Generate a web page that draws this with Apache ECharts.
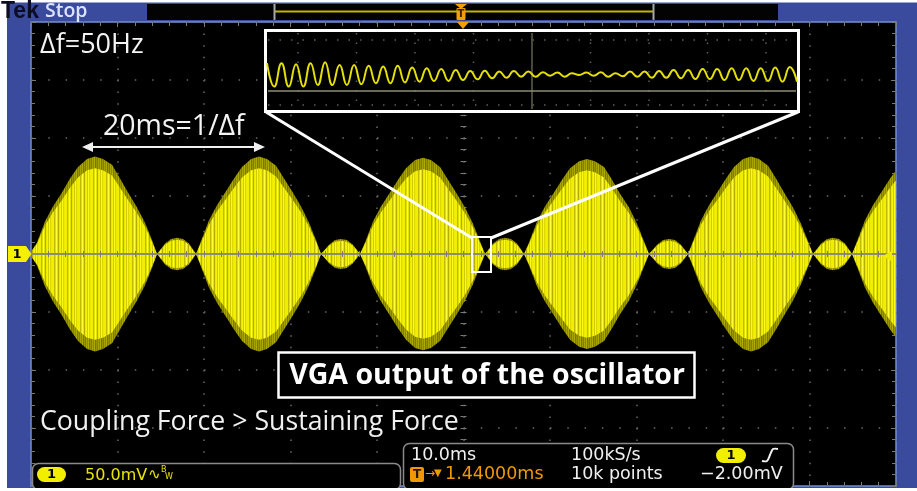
<!DOCTYPE html>
<html>
<head>
<meta charset="utf-8">
<script src="https://cdn.jsdelivr.net/npm/echarts@6/dist/echarts.min.js"></script>
<style>
html,body{margin:0;padding:0;background:#fff;}
#chart{width:917px;height:491px;}
</style>
</head>
<body>
<div id="chart"></div>
<script>
// ---------------- data ----------------
// envelope of the beating VGA signal: time (ms, screen centre = 0) and amplitude (mV)
const envTimeMs = [
  -50.00, -49.31, -48.38, -47.46, -46.42, -45.49, -44.57, -43.52, -42.60, -41.68, -40.63, -39.71, -38.78, -37.74, -36.82, -36.01, -35.43,
  -34.51, -33.81, -33.12, -32.43, -31.73, -30.92,
  -30.35, -29.42, -28.50, -27.46, -26.53, -25.61, -24.56, -23.64, -22.72, -21.67, -20.75, -19.82, -18.78, -17.86, -17.05, -16.47,
  -15.55, -14.85, -14.16, -13.47, -12.77, -11.96,
  -11.39, -10.46, -9.54, -8.50, -7.57, -6.65, -5.60, -4.68, -3.76, -2.71, -1.79, -0.86, 0.18, 1.10, 1.91, 2.49,
  3.41, 4.11, 4.80, 5.49, 6.19, 7.00,
  7.57, 8.50, 9.42, 10.46, 11.39, 12.31, 13.36, 14.28, 15.20, 16.25, 17.17, 18.10, 19.14, 20.06, 20.87, 21.45,
  22.37, 23.07, 23.76, 24.45, 25.15, 25.96,
  26.53, 27.46, 28.38, 29.42, 30.35, 31.27, 32.32, 33.24, 34.16, 35.21, 36.13, 37.06, 38.10, 39.02, 39.83, 40.41,
  41.33, 42.03, 42.72, 43.41, 44.11, 44.92,
  45.49, 46.42, 47.34, 48.38, 49.31, 50.00
];
const envAmpMv = [
  2, 10, 28, 41, 53, 65, 75, 82, 84, 82, 77, 65, 53, 40, 27, 12, 0,
  9, 13, 14, 13, 9, 0,
  11, 29, 42, 54, 65, 75, 82, 84, 82, 76, 65, 54, 41, 27, 12, 0,
  8, 12, 13, 12, 8, 0,
  10, 28, 41, 53, 64, 74, 81, 83, 81, 75, 64, 53, 40, 26, 11, 0,
  9, 13, 14, 13, 9, 0,
  10, 28, 41, 53, 64, 74, 80, 82, 80, 75, 64, 52, 40, 26, 11, 0,
  8, 12, 13, 12, 8, 0,
  11, 29, 42, 54, 65, 75, 82, 84, 82, 76, 65, 53, 40, 26, 11, 0,
  9, 13, 14, 13, 9, 0,
  11, 29, 42, 54, 65, 72
];
// zoomed inset: successive crest and trough values of the carrier (mV)
const insetPeakMv = [3.0, 3.0, 2.6, 3.0, 3.4, 2.3, 2.3, 2.0, 1.7, 2.0, 1.3, 1.1, 0.8, 0.4, 0.0, 0.1, -0.2, 0.0, -0.2,
  -0.5, -0.6, -0.9, -0.6, -0.5, -0.9, -0.2, -0.2, 0.0, 0.4, 0.4, 0.8, 0.8, 1.1, 1.1, 1.1, 1.3, 1.5];
const insetTroughMv = [-6.0, -6.0, -6.0, -5.4, -5.4, -5.4, -5.1, -4.7, -4.7, -4.4, -4.1, -3.8, -3.8, -3.5, -3.2, -2.8, -2.6, -2.2, -2.2,
  -1.8, -2.2, -1.5, -1.8, -2.2, -2.0, -2.2, -2.6, -2.6, -2.8, -3.1, -3.1, -3.5, -3.5, -3.8, -3.8, -4.1, -4.1];

// axis ranges (10 ms/div, 50 mV/div)
const timeRangeMs = [-50, 50];
const timeDivMs = 10;
const voltRangeMv = [-200, 200];
const voltDivMv = 50;

// texts
const brandText = 'Tek';
const runStateText = 'Stop';
const noteDeltaF = 'Δf=50Hz';
const notePeriod = '20ms=1/Δf';
const noteTitle = 'VGA output of the oscillator';
const noteCondition = 'Coupling Force > Sustaining Force';
const chLabel = '1';
const chScaleText = '50.0mV';
const timeScaleText = '10.0ms';
const sampleRateText = '100kS/s';
const trigPosText = '1.44000ms';
const recordText = '10k points';
const trigLevelText = '\u22122.00mV';

// ---------------- build ----------------
const chart = echarts.init(document.getElementById('chart'), null, {renderer: 'canvas'});

function stripePattern(cols) {
  const c = document.createElement('canvas');
  c.width = cols.length; c.height = 2;
  const g = c.getContext('2d');
  cols.forEach((col, i) => { g.fillStyle = col; g.fillRect(i, 0, 1, 2); });
  return c;
}
const innerPattern = stripePattern(['#f2ee00','#f2ee00','#c0ba00','#e2de00','#ffff38','#e6e200','#b4ae00','#ece800','#f6f200','#d0ca00','#fafa20','#dcd800','#eeea00']);
const outerPattern = stripePattern(['#9a9400','#847e00','#a8a200','#8e8800','#b0aa00','#7c7600']);

const upperOuter = envTimeMs.map((t, i) => [t, envAmpMv[i]]);
const lowerOuter = envTimeMs.map((t, i) => [t, -envAmpMv[i]]);
const upperInner = envTimeMs.map((t, i) => [t, envAmpMv[i] * 0.88]);
const lowerInner = envTimeMs.map((t, i) => [t, -envAmpMv[i] * 0.88]);

const insetSeq = [];
insetPeakMv.forEach((p, i) => { insetSeq.push(p); insetSeq.push(insetTroughMv[i]); });
const insetCats = insetSeq.map((_, i) => String(i));

const DOT = '#6a6a6a';
const TICK = '#7a7a7a';
const PLOT = {left: 31, top: 22, width: 865, height: 464};

function frameX(pos, split) {
  return {
    gridIndex: 0, type: 'value', min: timeRangeMs[0], max: timeRangeMs[1], interval: timeDivMs, position: pos,
    axisLine: {show: false, onZero: false},
    axisTick: {show: true, inside: true, length: 5, lineStyle: {color: TICK, width: 1}},
    minorTick: {show: true, splitNumber: 5, length: 4, lineStyle: {color: TICK, width: 1}},
    axisLabel: {show: false},
    splitLine: {show: split, lineStyle: {color: DOT, width: 1.5, type: [1.5, 10.1]}}
  };
}
function frameY(pos, split) {
  return {
    gridIndex: 0, type: 'value', min: voltRangeMv[0], max: voltRangeMv[1], interval: voltDivMv, position: pos,
    axisLine: {show: false, onZero: false},
    axisTick: {show: true, inside: true, length: 5, lineStyle: {color: TICK, width: 1}},
    minorTick: {show: true, splitNumber: 5, length: 4, lineStyle: {color: TICK, width: 1}},
    axisLabel: {show: false},
    splitLine: {show: split, lineStyle: {color: DOT, width: 1.5, type: [1.5, 15.8]}}
  };
}
function centreX(g, inside, lineShow) {
  return {
    gridIndex: g, type: 'value', min: timeRangeMs[0], max: timeRangeMs[1], interval: timeDivMs, z: 3,
    axisLine: {show: lineShow, onZero: true, lineStyle: {color: '#8e8c70', width: 2}},
    axisTick: {show: true, inside: inside, length: 3, lineStyle: {color: TICK}},
    minorTick: {show: true, splitNumber: 5, length: 3, lineStyle: {color: TICK}},
    axisLabel: {show: false}, splitLine: {show: false}
  };
}
function centreY(g, inside) {
  return {
    gridIndex: g, type: 'value', min: voltRangeMv[0], max: voltRangeMv[1], interval: voltDivMv, z: 1,
    axisLine: {show: false, onZero: true},
    axisTick: {show: true, inside: inside, length: 3, lineStyle: {color: TICK}},
    minorTick: {show: true, splitNumber: 5, length: 3, lineStyle: {color: TICK}},
    axisLabel: {show: false}, splitLine: {show: false}
  };
}

const SANS = '"Open Sans"';
const MONO = '"DejaVu Sans"';
function txt(x, y, text, font, fill, align, z) {
  return {type: 'text', x: x, y: y, z: z || 12, silent: true,
    style: {text: text, font: font, fill: fill, textAlign: align || 'left', align: align || 'left',
      textVerticalAlign: 'middle', verticalAlign: 'middle'}};
}
function line(x1, y1, x2, y2, color, w, z, dash) {
  return {type: 'line', z: z || 12, silent: true, shape: {x1, y1, x2, y2},
    style: {stroke: color, lineWidth: w, lineDash: dash || null}};
}
function rect(x, y, w, h, fill, stroke, lw, z, r) {
  return {type: 'rect', z: z || 12, silent: true, shape: {x, y, width: w, height: h, r: r || 0},
    style: {fill: fill, stroke: stroke, lineWidth: lw || 0}};
}
function poly(points, fill, z) {
  return {type: 'polygon', z: z || 12, silent: true, shape: {points}, style: {fill}};
}

const graphics = [];
// top status strip
graphics.push(rect(147, 4, 631, 16, '#030303', null, 0, 7));
graphics.push(line(275, 11.5, 653, 11.5, '#c4b400', 2, 8));
graphics.push(line(274.5, 4, 274.5, 20, '#a8a8a8', 2, 8));
graphics.push(line(653.5, 4, 653.5, 20, '#a8a8a8', 2, 8));
graphics.push(poly([[455, 4], [467, 4], [461, 9]], '#f0a000', 9));
graphics.push(rect(456.5, 8, 9, 12, '#f0a000', null, 0, 9, 1));
graphics.push(txt(461, 14.5, 'T', 'bold 10px "DejaVu Sans"', '#3a2000', 'center', 10));
graphics.push(poly([[457, 22], [469, 22], [463, 29]], '#f0a000', 9));
// brand + run state
graphics.push(txt(1, 12, brandText, 'bold 23px "Liberation Sans"', '#0c0c24', 'left', 60));
graphics.push(txt(45, 11, runStateText, '600 19.5px ' + SANS, '#dce4ff', 'left', 12));
// channel marker (left) and right-edge arrow
graphics.push(poly([[8, 246], [26, 246], [31.5, 254], [26, 262], [8, 262]], '#f4f000', 12));
graphics.push(txt(17, 254.5, chLabel, 'bold 13px "DejaVu Sans"', '#000', 'center', 13));
graphics.push(poly([[883, 256], [892, 250.5], [892, 261.5]], '#f0ec00', 12));
// inset box (zoom window)
graphics.push(rect(265.5, 30.5, 533, 81, '#000', '#ffffff', 3, 4));
for (let k = -4; k <= 4; k++) {
  const x = 532 + 58.5 * k;
  graphics.push(line(x, 33, x, 109, k === 0 ? '#7a7a60' : '#5e5e5e', k === 0 ? 1.2 : 1.5, 5, k === 0 ? null : [1.5, 8]));
}
graphics.push(line(268, 40, 796, 40, '#5e5e5e', 1.5, 5, [1.5, 10]));
graphics.push(line(268, 105, 796, 105, '#5e5e5e', 1.5, 5, [1.5, 10]));
graphics.push(line(268, 91, 796, 91, '#8e8c70', 1.5, 5));
// zoom connectors and small box
graphics.push(line(266, 112, 472, 238, '#ffffff', 3, 14));
graphics.push(line(798, 112, 491, 238, '#ffffff', 3, 14));
graphics.push(rect(472, 237, 19, 35, null, '#ffffff', 2, 14));
// annotations
graphics.push(txt(40, 45, noteDeltaF, '27px ' + SANS, '#f4f4f4'));
graphics.push(txt(103, 127, notePeriod, '28.5px ' + SANS, '#f4f4f4'));
graphics.push(line(90, 147, 257, 147, '#f0f0f0', 2, 12));
graphics.push(poly([[82, 147], [93, 142], [93, 152]], '#f0f0f0', 12));
graphics.push(poly([[265, 147], [254, 142], [254, 152]], '#f0f0f0', 12));
graphics.push(rect(278.5, 352.5, 416, 45, '#000', '#ffffff', 2.5, 14));
graphics.push(txt(487, 375.5, noteTitle, 'bold 28.5px ' + SANS, '#ffffff', 'center', 15));
graphics.push(txt(40, 422, noteCondition, '26.7px ' + SANS, '#f0f0f0'));
// bottom-left status box
graphics.push(rect(32.5, 463.5, 368, 26, '#000', '#8a8a8a', 1.5, 16, 6));
graphics.push(rect(37, 467, 29, 15, '#f2ee00', null, 0, 17, 7.5));
graphics.push(txt(51.5, 475, chLabel, 'bold 13px ' + MONO, '#000', 'center', 18));
graphics.push(txt(85, 475.5, chScaleText, '16px ' + MONO, '#e8e400', 'left', 18));
graphics.push(txt(148, 475, '\u223F', '15px ' + MONO, '#e8e400', 'left', 18));
graphics.push(txt(161, 470, 'B', '8px ' + MONO, '#e8e400', 'left', 18));
graphics.push(txt(165, 477, 'W', '8px ' + MONO, '#e8e400', 'left', 18));
// bottom-right status box
graphics.push(rect(403.5, 443.5, 390, 46, '#000', '#8a8a8a', 1.5, 16, 6));
graphics.push(txt(411, 455.5, timeScaleText, '17.5px ' + MONO, '#f0f0f0', 'left', 18));
graphics.push(txt(571, 455.5, sampleRateText, '17.5px ' + MONO, '#f0f0f0', 'left', 18));
graphics.push(rect(716, 448, 30, 15, '#f2ee00', null, 0, 17, 7.5));
graphics.push(txt(731, 455.5, chLabel, 'bold 13px ' + MONO, '#000', 'center', 18));
graphics.push({type: 'polyline', z: 18, silent: true, shape: {points: [[762, 461], [767, 461], [770, 455], [773, 449], [778, 449]], smooth: 0.3},
  style: {stroke: '#f0f0f0', lineWidth: 2, fill: null}});
graphics.push(rect(410, 467, 14, 15, '#f09800', null, 0, 17, 2));
graphics.push(txt(417, 474.5, 'T', 'bold 12px ' + MONO, '#2a1600', 'center', 18));
graphics.push(txt(425, 474, '\u2192', '12px ' + MONO, '#f09800', 'left', 18));
graphics.push(txt(434, 473, '\u25BC', '10px ' + MONO, '#f09800', 'left', 18));
graphics.push(txt(445, 474.5, trigPosText, '17.5px ' + MONO, '#f09800', 'left', 18));
graphics.push(txt(571, 474.5, recordText, '17.5px ' + MONO, '#f0f0f0', 'left', 18));
graphics.push(txt(700, 474.5, trigLevelText, '17.5px ' + MONO, '#f0f0f0', 'left', 18));
// white page margins
graphics.push(rect(0, 0, 917, 2.5, '#ffffff', null, 0, 50));
graphics.push(rect(0, 0, 7, 491, '#ffffff', null, 0, 50));
graphics.push(rect(0, 488, 917, 3, '#ffffff', null, 0, 50));

const option = {
  animation: false,
  backgroundColor: '#3a4a9c',
  grid: [
    Object.assign({show: true, backgroundColor: '#000', borderColor: '#7290d6', borderWidth: 1.5}, PLOT),
    {left: 267, top: 32, width: 530, height: 78, show: false},
    Object.assign({show: false}, PLOT),
    Object.assign({show: false}, PLOT)
  ],
  xAxis: [
    frameX('bottom', true),
    frameX('top', false),
    {gridIndex: 1, type: 'category', data: insetCats, boundaryGap: false, show: false},
    centreX(2, true, true),
    centreX(3, false, false)
  ],
  yAxis: [
    frameY('left', true),
    frameY('right', false),
    {gridIndex: 1, type: 'value', min: -15, max: 15, show: false},
    centreY(2, true),
    centreY(3, false)
  ],
  series: [
    {type: 'line', xAxisIndex: 0, yAxisIndex: 0, data: upperOuter, symbol: 'none', silent: true, z: 2,
      lineStyle: {width: 0, opacity: 0}, areaStyle: {color: {image: outerPattern, repeat: 'repeat'}, opacity: 1}},
    {type: 'line', xAxisIndex: 0, yAxisIndex: 0, data: lowerOuter, symbol: 'none', silent: true, z: 2,
      lineStyle: {width: 0, opacity: 0}, areaStyle: {color: {image: outerPattern, repeat: 'repeat'}, opacity: 1}},
    {type: 'line', xAxisIndex: 0, yAxisIndex: 0, data: upperInner, symbol: 'none', silent: true, z: 2,
      lineStyle: {width: 0, opacity: 0}, areaStyle: {color: {image: innerPattern, repeat: 'repeat'}, opacity: 1}},
    {type: 'line', xAxisIndex: 0, yAxisIndex: 0, data: lowerInner, symbol: 'none', silent: true, z: 2,
      lineStyle: {width: 0, opacity: 0}, areaStyle: {color: {image: innerPattern, repeat: 'repeat'}, opacity: 1}},
    {type: 'line', xAxisIndex: 2, yAxisIndex: 2, data: insetSeq, symbol: 'none', silent: true, z: 6, smooth: 0.5,
      lineStyle: {color: '#e4e000', width: 2}}
  ],
  graphic: {elements: graphics}
};
chart.setOption(option);
</script>
</body>
</html>
